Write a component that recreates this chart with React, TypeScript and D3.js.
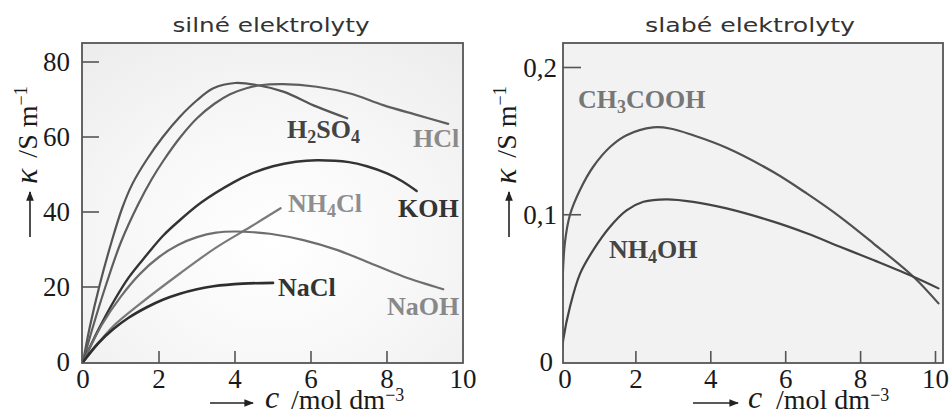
import React from 'react';
import * as d3 from 'd3';

// ---- data ----
const cTicks = [0, 2, 4, 6, 8, 10];
const strongTicks = [0, 20, 40, 60, 80];
const weakTicks = [0, 0.1, 0.2];
const weakTickLabels = ['0', '0,1', '0,2'];

const h2so4C = [0, 0.18, 0.45, 0.75, 1.03, 1.3, 1.68, 2.1, 2.55, 3.0, 3.43, 4.0, 4.6, 5.27, 6.15, 6.95];
const h2so4K = [0, 9.4, 21, 32, 41, 47.5, 54, 60, 65.4, 69.8, 73, 74.4, 73.8, 72.1, 68.1, 65];

const hclC = [0, 0.25, 0.62, 1.0, 1.45, 1.8, 2.11, 2.55, 3.0, 3.45, 3.87, 4.3, 4.66, 5.27, 6.15, 7.03, 7.9, 8.78, 9.61];
const hclK = [0, 9, 21, 32, 42, 48.6, 53.6, 59.8, 65, 68.8, 71.4, 73, 73.8, 74.1, 73.4, 71.6, 68.5, 65.9, 63.5];

const kohC = [0, 0.4, 0.8, 1.2, 1.68, 2.1, 2.5, 3.12, 3.96, 4.4, 5.0, 5.6, 6.15, 7.0, 7.47, 8.0, 8.4, 8.78];
const kohK = [0, 8.5, 16, 22.5, 28.6, 33.6, 37.4, 42.6, 47.9, 50.1, 52.2, 53.4, 53.8, 53.3, 52.2, 50.3, 48.2, 45.6];

const nh4clC = [0, 0.5, 0.8, 1.5, 2.55, 3.5, 4.4, 5.2];
const nh4clK = [0, 6.2, 9.6, 15.5, 23.6, 30.5, 36, 41];

const naohC = [0, 0.5, 1.0, 1.5, 2.0, 2.5, 3.0, 3.5, 4.0, 4.5, 4.92, 5.8, 6.68, 7.55, 8.43, 9.48];
const naohK = [0, 10, 17.5, 23.5, 28, 31.2, 33.3, 34.5, 34.8, 34.6, 34.2, 32.5, 29.9, 26.4, 22.8, 19.4];

const naclC = [0, 0.4, 0.8, 1.2, 1.68, 2.1, 2.55, 3.0, 3.43, 4.2, 5.0];
const naclK = [0, 5, 8.8, 11.8, 14.6, 16.6, 18.2, 19.4, 20.2, 20.9, 21.1];

const ch3coohC = [0, 0.03, 0.1, 0.24, 0.51, 0.86, 1.31, 1.75, 2.46, 2.91, 3.53, 4.42, 5.67, 6.56, 7.45, 8.34, 9.41, 10.08];
const ch3coohK = [0, 0.045, 0.08, 0.1, 0.117, 0.1326, 0.146, 0.154, 0.1593, 0.1586, 0.154, 0.1455, 0.129, 0.1145, 0.0986, 0.0806, 0.0579, 0.0398];

const nh4ohC = [0, 0.06, 0.24, 0.51, 0.86, 1.31, 1.75, 2.2, 2.82, 3.53, 4.42, 5.67, 6.56, 7.45, 8.34, 9.41, 10.08];
const nh4ohK = [0, 0.015, 0.0375, 0.06, 0.076, 0.0919, 0.103, 0.1088, 0.1105, 0.1088, 0.1043, 0.0953, 0.0874, 0.0783, 0.0692, 0.0579, 0.05];

const zip = (a: number[], b: number[]) => a.map((v, i) => [v, b[i]] as [number, number]);

// ---- layout ----
const L = { x0: 82, x1: 463, y0: 43, y1: 363 };
const R = { x0: 563, x1: 943, y0: 43, y1: 363 };

const xL = d3.scaleLinear().domain([0, 10]).range([83, 463]);
const yL = d3.scaleLinear().domain([0, 80]).range([362, 62]);
const xR = d3.scaleLinear().domain([0, 10]).range([561, 935.5]);
const yR = d3.scaleLinear().domain([0, 0.2]).range([362, 67.5]);

const serif = '"Liberation Serif", "DejaVu Serif", serif';
const sans = '"DejaVu Sans", sans-serif';

function Arrow({ x1, y1, x2, y2 }: { x1: number; y1: number; x2: number; y2: number }) {
  return (
    <line x1={x1} y1={y1} x2={x2} y2={y2} stroke="#222" strokeWidth={1.6} markerEnd="url(#arr)" />
  );
}

export default function App() {
  const lineL = d3
    .line<[number, number]>()
    .x((d) => xL(d[0]))
    .y((d) => yL(d[1]))
    .curve(d3.curveCatmullRom.alpha(0.5));
  const lineR = d3
    .line<[number, number]>()
    .x((d) => xR(d[0]))
    .y((d) => yR(d[1]))
    .curve(d3.curveCatmullRom.alpha(0.5));

  const leftSeries = [
    { d: zip(h2so4C, h2so4K), c: '#555', w: 2.2 },
    { d: zip(hclC, hclK), c: '#5e5e5e', w: 2.2 },
    { d: zip(kohC, kohK), c: '#333', w: 2.4 },
    { d: zip(nh4clC, nh4clK), c: '#7a7a7a', w: 2.2 },
    { d: zip(naohC, naohK), c: '#6e6e6e', w: 2.2 },
    { d: zip(naclC, naclK), c: '#2e2e2e', w: 2.6 },
  ];
  const rightSeries = [
    { d: zip(ch3coohC, ch3coohK), c: '#505050', w: 2.2 },
    { d: zip(nh4ohC, nh4ohK), c: '#444', w: 2.2 },
  ];

  const lab = (x: number, y: number, fill: string, parts: [string, boolean][]) => (
    <text x={x} y={y} fontFamily={serif} fontWeight="bold" fontSize={26} fill={fill}>
      {parts.map(([t, sub], i) =>
        sub ? (
          <tspan key={i} fontSize={18} dy={5}>
            {t}
          </tspan>
        ) : (
          <tspan key={i} dy={i > 0 && parts[i - 1][1] ? -5 : 0}>
            {t}
          </tspan>
        )
      )}
    </text>
  );

  const yLabel = (bx: number, arrowX: number) => (
    <g>
      <Arrow x1={arrowX} y1={237} x2={arrowX} y2={192} />
      <text
        transform={`translate(${bx},184) rotate(-90)`}
        fontFamily={serif}
        fontSize={28}
        fill="#1a1a1a"
      >
        <tspan fontStyle="italic" fontSize={32}>κ</tspan>
        <tspan dx={11}>/S m</tspan>
        <tspan fontSize={18} dy={-10}>−1</tspan>
      </text>
    </g>
  );

  const xLabel = (ax0: number, ax1: number, cx: number, sx: number) => (
    <g>
      <Arrow x1={ax0} y1={403} x2={ax1} y2={403} />
      <text x={cx} y={408} fontFamily={serif} fontStyle="italic" fontSize={32} fill="#1a1a1a">
        c
      </text>
      <text x={sx} y={409} fontFamily={serif} fontSize={28} fill="#1a1a1a">
        /mol dm<tspan fontSize={18} dy={-8}>−3</tspan>
      </text>
    </g>
  );

  return (
    <svg
      width={951}
      height={416}
      style={{ position: 'absolute', left: 0, top: 0, background: '#fff' }}
    >
      <defs>
        <radialGradient id="bgL" cx="0.5" cy="0.62" r="0.8">
          <stop offset="0" stopColor="#ffffff" />
          <stop offset="0.45" stopColor="#f8f8f8" />
          <stop offset="1" stopColor="#ececec" />
        </radialGradient>
        <clipPath id="clipL">
          <rect x={L.x0} y={L.y0} width={L.x1 - L.x0} height={L.y1 - L.y0} />
        </clipPath>
        <clipPath id="clipR">
          <rect x={R.x0} y={R.y0} width={R.x1 - R.x0} height={R.y1 - R.y0} />
        </clipPath>
        <marker id="arr" viewBox="0 0 10 10" refX="9" refY="5" markerWidth="6" markerHeight="6" orient="auto">
          <path d="M0,1 L10,5 L0,9 z" fill="#222" />
        </marker>
      </defs>

      {/* titles */}
      <text x={271} y={32} textAnchor="middle" fontFamily={sans} fontSize={19} fill="#333" textLength={197} lengthAdjust="spacingAndGlyphs">
        silné elektrolyty
      </text>
      <text x={750} y={32} textAnchor="middle" fontFamily={sans} fontSize={19} fill="#333" textLength={210} lengthAdjust="spacingAndGlyphs">
        slabé elektrolyty
      </text>

      {/* left panel */}
      <rect x={L.x0} y={L.y0} width={L.x1 - L.x0} height={L.y1 - L.y0} fill="url(#bgL)" />
      <g clipPath="url(#clipL)">
        {leftSeries.map((s, i) => (
          <path key={i} d={lineL(s.d) || ''} fill="none" stroke={s.c} strokeWidth={s.w} strokeLinecap="round" />
        ))}
      </g>
      {strongTicks.map((t) => (
        <g key={t}>
          {t > 0 && <line x1={L.x0} x2={L.x0 + 17} y1={yL(t)} y2={yL(t)} stroke="#555" strokeWidth={1.6} />}
          <text x={70} y={yL(t) + 9} textAnchor="end" fontFamily={serif} fontSize={27} fill="#1a1a1a">
            {t}
          </text>
        </g>
      ))}
      {cTicks.map((t) => (
        <g key={t}>
          {t > 0 && t < 10 && <line x1={xL(t)} x2={xL(t)} y1={L.y1} y2={L.y1 - 12} stroke="#555" strokeWidth={1.6} />}
          <text x={xL(t)} y={388} textAnchor="middle" fontFamily={serif} fontSize={27} fill="#1a1a1a">
            {t}
          </text>
        </g>
      ))}
      <rect x={L.x0} y={L.y0} width={L.x1 - L.x0} height={L.y1 - L.y0} fill="none" stroke="#555" strokeWidth={1.8} />

      {lab(287, 138, '#444', [['H', false], ['2', true], ['SO', false], ['4', true]])}
      {lab(413, 147, '#8a8a8a', [['HCl', false]])}
      {lab(288, 212, '#8e8e8e', [['NH', false], ['4', true], ['Cl', false]])}
      {lab(398, 217, '#333', [['KOH', false]])}
      {lab(278, 296, '#333', [['NaCl', false]])}
      {lab(387, 315, '#888', [['NaOH', false]])}

      {yLabel(37, 30)}
      {xLabel(210, 253, 265, 291)}

      {/* right panel */}
      <rect x={R.x0} y={R.y0} width={R.x1 - R.x0} height={R.y1 - R.y0} fill="#f2f2f2" />
      <g clipPath="url(#clipR)">
        {rightSeries.map((s, i) => (
          <path key={i} d={lineR(s.d) || ''} fill="none" stroke={s.c} strokeWidth={s.w} strokeLinecap="round" />
        ))}
      </g>
      {weakTicks.map((t, i) => (
        <g key={t}>
          {t > 0 && <line x1={R.x0} x2={R.x0 + 18} y1={yR(t)} y2={yR(t)} stroke="#555" strokeWidth={1.6} />}
          <text x={t > 0 ? 557 : 553} y={yR(t) + 9} textAnchor="end" fontFamily={serif} fontSize={27} fill="#1a1a1a">
            {weakTickLabels[i]}
          </text>
        </g>
      ))}
      {cTicks.map((t) => (
        <g key={t}>
          {t > 0 && <line x1={xR(t)} x2={xR(t)} y1={R.y1} y2={R.y1 - 12} stroke="#555" strokeWidth={1.6} />}
          <text x={t === 0 ? 565 : xR(t)} y={388} textAnchor="middle" fontFamily={serif} fontSize={27} fill="#1a1a1a">
            {t}
          </text>
        </g>
      ))}
      <rect x={R.x0} y={R.y0} width={R.x1 - R.x0} height={R.y1 - R.y0} fill="none" stroke="#555" strokeWidth={1.8} />

      {lab(578, 108, '#777', [['CH', false], ['3', true], ['COOH', false]])}
      {lab(609, 258, '#444', [['NH', false], ['4', true], ['OH', false]])}

      {yLabel(516, 509)}
      {xLabel(693, 738, 748, 776)}
    </svg>
  );
}
